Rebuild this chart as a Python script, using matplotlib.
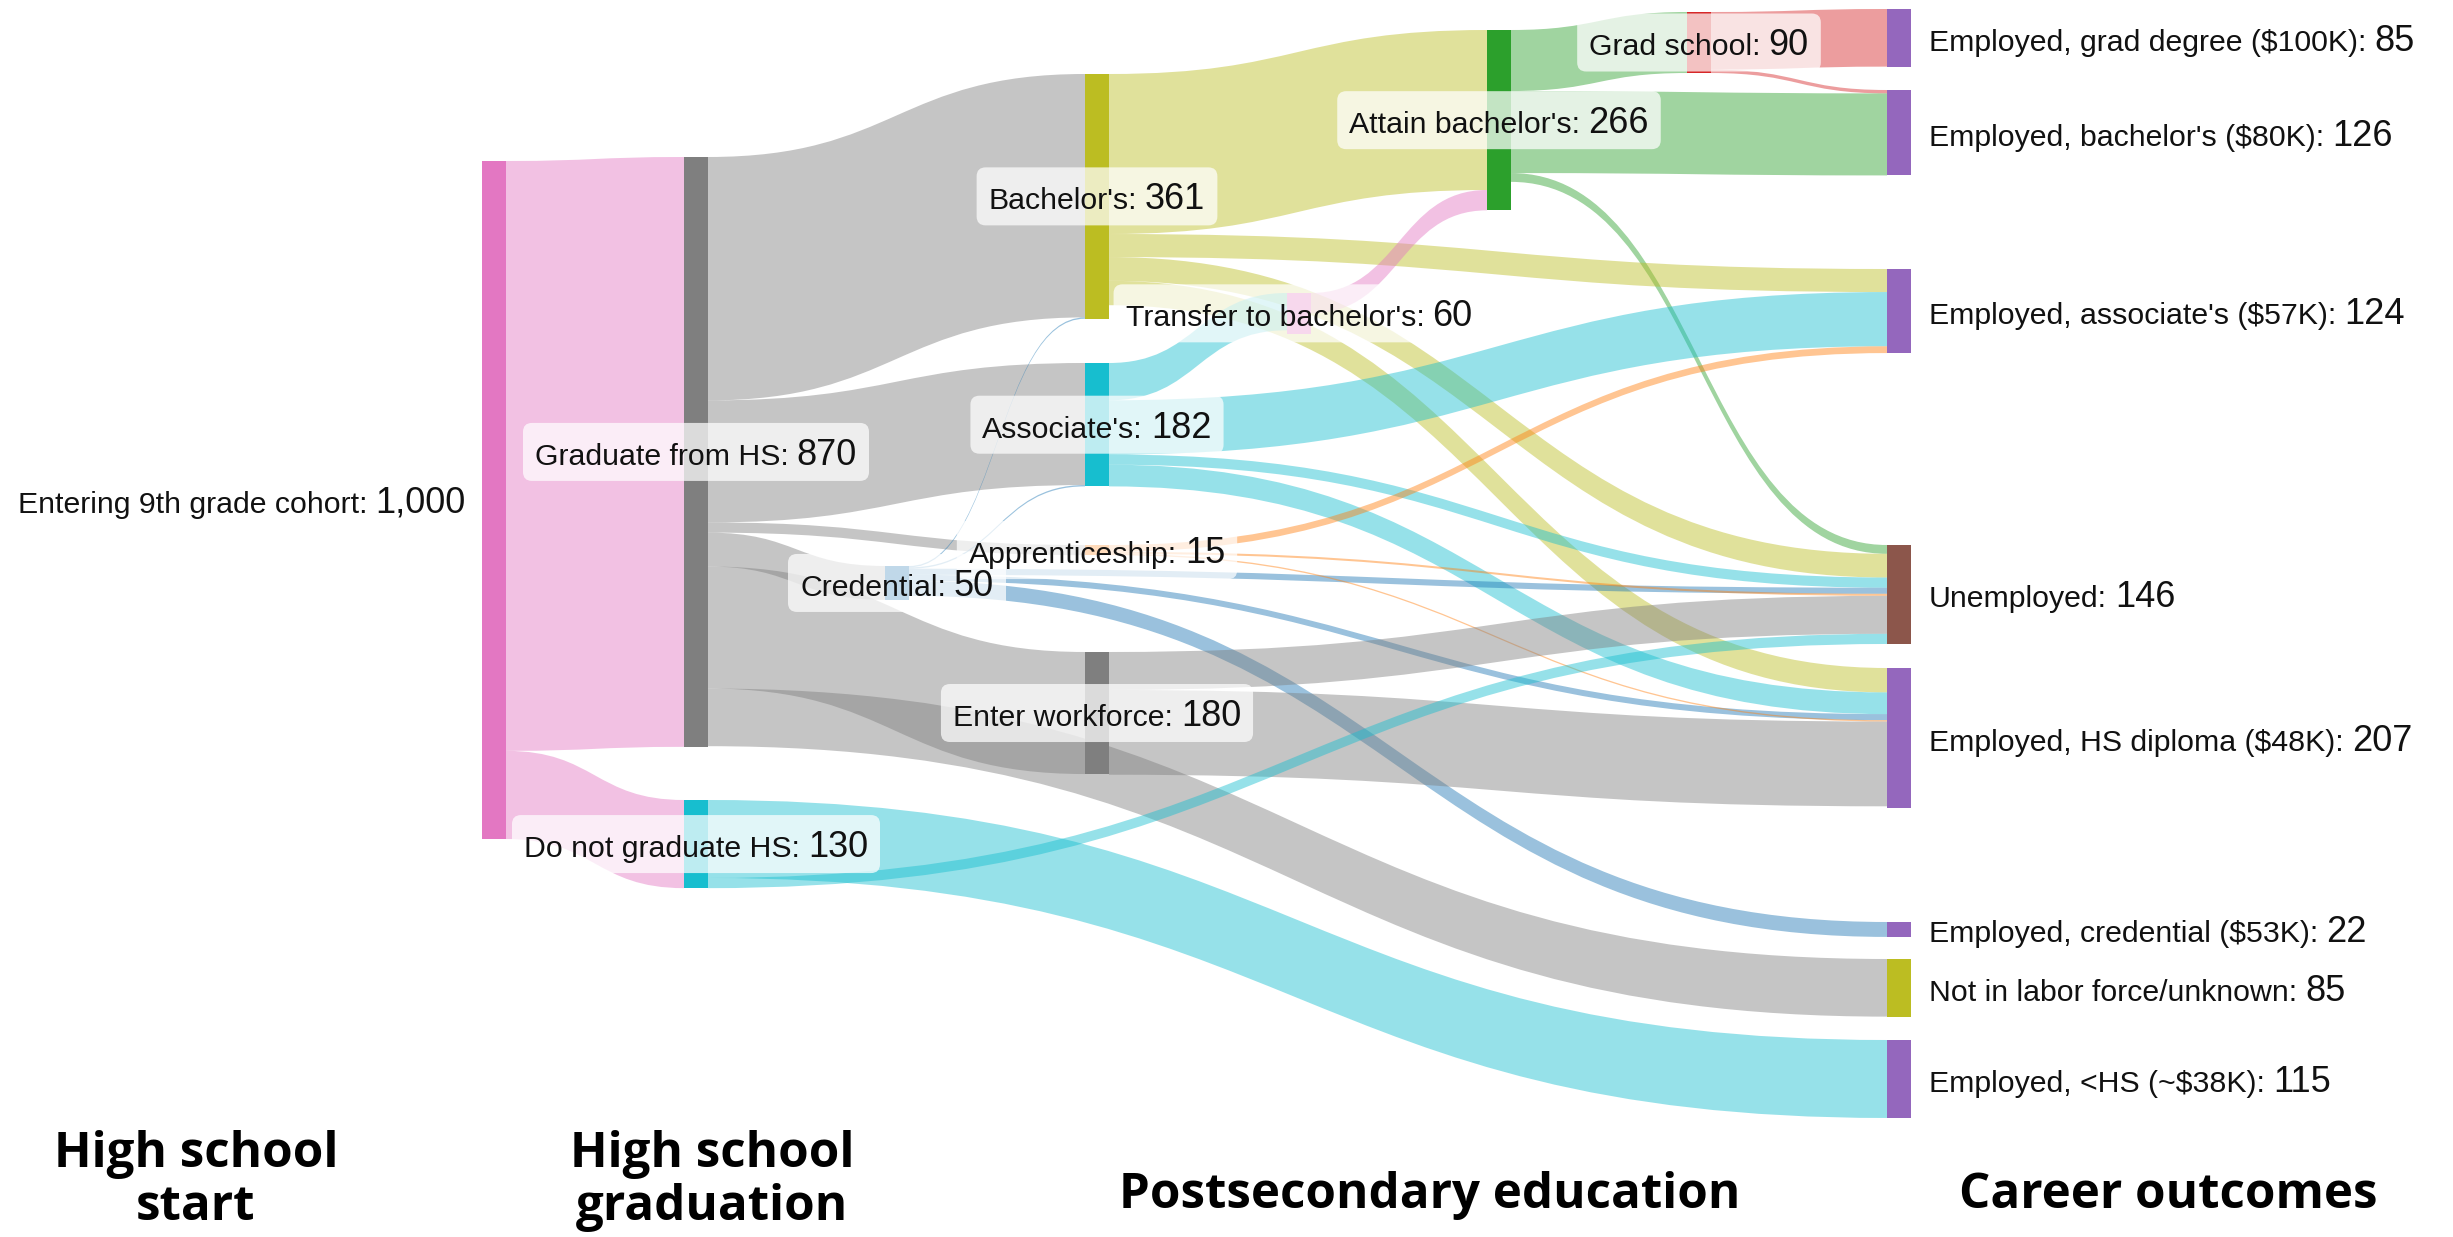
import matplotlib
matplotlib.use("Agg")
import matplotlib.pyplot as plt
from matplotlib.path import Path
from matplotlib.patches import PathPatch, Rectangle, FancyBboxPatch
from matplotlib.colors import to_rgba

# ---- data ----
node_labels = ["Entering 9th grade cohort", "Graduate from HS", "Do not graduate HS",
               "Bachelor's", "Associate's", "Apprenticeship", "Credential", "Enter workforce",
               "Transfer to bachelor's", "Attain bachelor's", "Grad school",
               "Employed, grad degree ($100K)", "Employed, bachelor's ($80K)",
               "Employed, associate's ($57K)", "Unemployed", "Employed, HS diploma ($48K)",
               "Employed, credential ($53K)", "Not in labor force/unknown", "Employed, <HS (~$38K)"]
node_values = [1000, 870, 130, 361, 182, 15, 50, 180, 60, 266, 90,
               85, 126, 124, 146, 207, 22, 85, 115]
node_colors = ["#e377c2", "#7f7f7f", "#17becf", "#bcbd22", "#17becf", "#ff7f0e", "#1f77b4",
               "#7f7f7f", "#e377c2", "#2ca02c", "#d62728",
               "#9467bd", "#9467bd", "#9467bd", "#8c564b", "#9467bd", "#9467bd", "#bcbd22", "#9467bd"]

# links, listed in stacking order
link_source = [0, 0,
               1, 1, 1, 1, 1, 1,
               10, 10,
               9, 9, 9,
               3, 3, 3, 3,
               8,
               4, 4, 4, 4,
               6, 6, 6, 6, 6,
               5, 5, 5,
               7, 7,
               2, 2]
link_target = [1, 2,
               3, 4, 5, 6, 7, 17,
               11, 12,
               10, 12, 14,
               9, 13, 14, 15,
               9,
               8, 13, 14, 15,
               3, 4, 14, 15, 16,
               13, 14, 15,
               14, 15,
               18, 14]
link_value = [870, 130,
              359, 180, 15, 50, 180, 85,
              85, 5,
              90, 121, 13,
              236, 34, 35, 36,
              30,
              55, 80, 15, 32,
              2, 2, 9, 9, 22,
              10, 3, 2,
              56, 125,
              115, 15]

column_titles = ["High school\nstart", "High school\ngraduation",
                 "Postsecondary education", "Career outcomes"]

# ---- layout (pixels) ----
node_x = [482, 684, 684, 1085, 1085, 1085, 885, 1085, 1287, 1487, 1687,
          1887, 1887, 1887, 1887, 1887, 1887, 1887, 1887]
node_top = [161, 157, 800, 74, 363, 545, 566, 652, 293, 30, 12,
            9, 90, 269, 545, 668, 922, 959, 1040]
label_side = ["left"] + ["center"] * 10 + ["right"] * 8
node_w = 24
k = 0.678  # px per person
W, H = 2453, 1237

fig = plt.figure(figsize=(W / 100, H / 100), dpi=100)
ax = fig.add_axes([0, 0, 1, 1])
ax.set_xlim(0, W)
ax.set_ylim(H, 0)
ax.axis("off")

# links
out_off = [0.0] * len(node_values)
in_off = [0.0] * len(node_values)
for s, t, v in zip(link_source, link_target, link_value):
    h = v * k
    x0 = node_x[s] + node_w
    x1 = node_x[t]
    y0 = node_top[s] + out_off[s]
    y1 = node_top[t] + in_off[t]
    out_off[s] += h
    in_off[t] += h
    xm = (x0 + x1) / 2
    verts = [(x0, y0), (xm, y0), (xm, y1), (x1, y1),
             (x1, y1 + h), (xm, y1 + h), (xm, y0 + h), (x0, y0 + h), (x0, y0)]
    codes = [Path.MOVETO, Path.CURVE4, Path.CURVE4, Path.CURVE4,
             Path.LINETO, Path.CURVE4, Path.CURVE4, Path.CURVE4, Path.CLOSEPOLY]
    ax.add_patch(PathPatch(Path(verts, codes), fc=to_rgba(node_colors[s], 0.45),
                           ec="none", zorder=1))

# nodes
for i, v in enumerate(node_values):
    ax.add_patch(Rectangle((node_x[i], node_top[i]), node_w, v * k,
                           fc=node_colors[i], ec="none", zorder=2))

# labels: name in normal size, value a bit larger
renderer = fig.canvas.get_renderer()
FONT = ["Liberation Sans", "DejaVu Sans"]
fs1, fs2 = 21.8, 26
for i, name in enumerate(node_labels):
    yc = node_top[i] + node_values[i] * k / 2
    t1 = ax.text(0, 0, name + ":", fontsize=fs1, family=FONT, va="baseline",
                 parse_math=False, zorder=6, color="#111111")
    t2 = ax.text(0, 0, f"{node_values[i]:,}", fontsize=fs2, family=FONT, va="baseline",
                 parse_math=False, zorder=6, color="#111111")
    w1 = t1.get_window_extent(renderer).width
    w2 = t2.get_window_extent(renderer).width
    gap = 8
    total = w1 + gap + w2
    if label_side[i] == "center":
        x0 = node_x[i] + node_w / 2 - total / 2
    elif label_side[i] == "left":
        x0 = node_x[i] - 16 - total
    else:
        x0 = node_x[i] + node_w + 18
    base = yc + 0.716 * fs2 * 100 / 72 / 2
    t1.set_position((x0, base))
    t2.set_position((x0 + w1 + gap, base))
    if label_side[i] == "center":
        ax.add_patch(FancyBboxPatch((x0 - 12, yc - 29), total + 24, 58,
                                    boxstyle="round,pad=0,rounding_size=9",
                                    fc=(1, 1, 1, 0.72), ec="none", zorder=5))

# column titles
title_x = [196, 712, 1430, 2168]
title_y = [1181, 1181, 1195, 1195]
for tx, ty, txt in zip(title_x, title_y, column_titles):
    ax.text(tx, ty, txt, ha="center", va="center", fontsize=35.5, fontweight="bold",
            family=["Open Sans", "DejaVu Sans"], linespacing=1.1, color="black")

fig.savefig("out.png", dpi=100)
